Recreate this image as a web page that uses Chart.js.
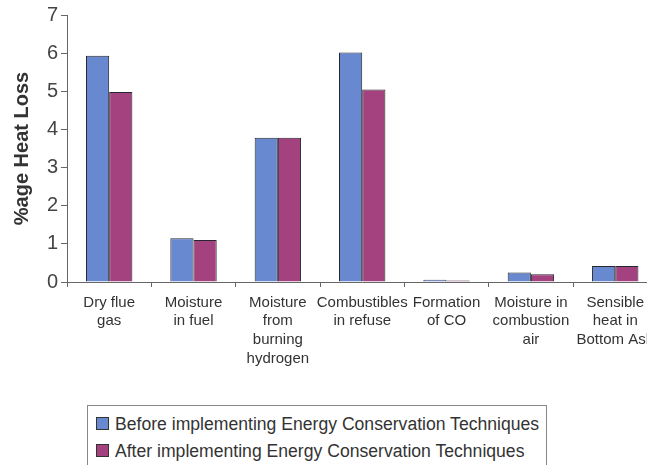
<!DOCTYPE html>
<html>
<head>
<meta charset="utf-8">
<script src="https://cdn.jsdelivr.net/npm/chart.js@4"></script>
<style>
  html, body { margin: 0; padding: 0; background: #fff; overflow: hidden; }
  #wrap { position: relative; width: 660px; height: 380px; }
  #legend {
    position: absolute; left: 87px; top: 405px; width: 460px; height: 80px;
    border: 1px solid #888; font-family: "Liberation Sans", Arial, sans-serif;
    font-size: 17.6px; color: #333; padding: 5px 0 0 8px; box-sizing: border-box;
  }
  #legend div { height: 27px; line-height: 27px; white-space: nowrap; }
  #legend span.sw {
    display: inline-block; width: 11px; height: 11px; border: 1px solid #333;
    margin-right: 6px; vertical-align: 0px;
  }
</style>
</head>
<body>
<div id="wrap"><canvas id="chart" width="660" height="380"></canvas></div>
<div id="legend"></div>
<script>
// categories and series
const categories = [
    ['Dry flue', 'gas'],
    ['Moisture', 'in fuel'],
    ['Moisture', 'from', 'burning', 'hydrogen'],
    ['Combustibles', 'in refuse'],
    ['Formation', 'of CO'],
    ['Moisture in', 'combustion', 'air'],
    ['Sensible', 'heat in', 'Bottom Ash']
];
const beforeValues = [5.93, 1.15, 3.78, 6.02, 0.06, 0.25, 0.42];
const afterValues  = [4.98, 1.10, 3.78, 5.05, 0.04, 0.20, 0.42];
const yTicks = [0, 1, 2, 3, 4, 5, 6, 7];

const series = [
    { label: 'Before implementing Energy Conservation Techniques', data: beforeValues, color: '#6888cf' },
    { label: 'After implementing Energy Conservation Techniques', data: afterValues, color: '#a3427f' }
];

const ctx = document.getElementById('chart').getContext('2d');
new Chart(ctx, {
    type: 'bar',
    data: {
        labels: categories,
        datasets: series.map(s => ({
            label: s.label,
            data: s.data,
            backgroundColor: s.color,
            borderColor: '#26262e',
            borderWidth: 1,
            categoryPercentage: 0.55,
            barPercentage: 1.0
        }))
    },
    options: {
        responsive: false,
        animation: false,
        layout: { padding: { top: 4, left: 0, right: 0, bottom: 0 } },
        plugins: { legend: { display: false }, tooltip: { enabled: false } },
        scales: {
            x: {
                grid: { display: true, drawOnChartArea: false, offset: true, tickLength: 5, color: '#666' },
                border: { display: true, color: '#666' },
                ticks: {
                    color: '#333', padding: 6, maxRotation: 0, autoSkip: false,
                    font: { family: '"Liberation Sans", Arial', size: 15, lineHeight: 1.25 }
                },
                afterFit: s => { s.height = 98; }
            },
            y: {
                min: 0, max: 7,
                afterBuildTicks: s => { s.ticks = yTicks.map(v => ({ value: v })); },
                grid: { display: true, drawOnChartArea: false, tickLength: 6, color: '#666' },
                border: { display: true, color: '#666' },
                ticks: {
                    color: '#444', padding: 3,
                    font: { family: '"Liberation Sans", Arial', size: 20 }
                },
                title: {
                    display: true, text: '%age Heat Loss', color: '#333',
                    font: { family: '"Liberation Sans", Arial', size: 20, weight: 'bold' },
                    padding: { top: 10, bottom: 2 }
                },
                afterFit: s => { s.width = 67; }
            }
        }
    }
});

// legend in a box, built from the series
const legendEl = document.getElementById('legend');
series.forEach(s => {
    const row = document.createElement('div');
    const sw = document.createElement('span');
    sw.className = 'sw';
    sw.style.background = s.color;
    row.appendChild(sw);
    row.appendChild(document.createTextNode(s.label));
    legendEl.appendChild(row);
});
</script>
</body>
</html>
